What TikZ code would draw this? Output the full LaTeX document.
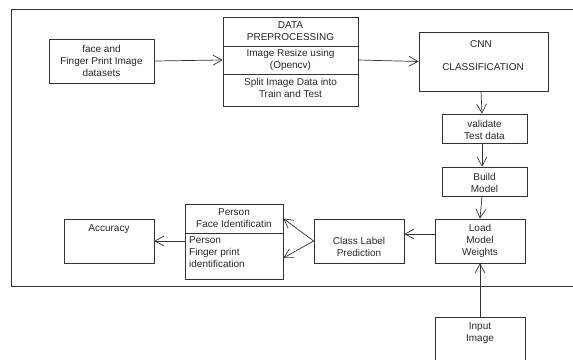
\documentclass[tikz,border=0pt]{standalone}
\usepackage{fontspec}
\setmainfont{Liberation Sans}
\usetikzlibrary{arrows.meta}
\definecolor{ln}{HTML}{333333}
\tikzset{
  box/.style={draw=ln, line width=0.7pt, rectangle, inner sep=0pt},
  txt/.style={inner sep=0pt, align=center, font=\fontsize{10}{12}\selectfont, text=black!85},
  ltxt/.style={inner sep=0pt, align=left, font=\fontsize{10}{12}\selectfont, text=black!85},
  arr/.style={draw=ln, line width=0.7pt, -{Straight Barb[length=9pt,width=10pt]}},
}
\begin{document}
\begin{tikzpicture}[x=1pt,y=-1pt]
\useasboundingbox (0,0) rectangle (573,359);
% frame
\draw[draw=ln, line width=0.7pt] (590,9) -- (11,9) -- (11,286) -- (590,286);
% face box
\node[box, minimum width=105, minimum height=44] (face) at (101.5,61) {};
\node[txt] (facet) at (face.center) {face and\\Finger Print Image\\datasets};
% data preprocessing
\node[box, minimum width=135, minimum height=29] (dp1) at (290.5,31.5) {};
\node[box, minimum width=135, minimum height=28] (dp2) at (290.5,60) {};
\node[box, minimum width=135, minimum height=32] (dp3) at (290.5,90) {};
\node[txt] (dp1t) at (dp1.center) {DATA\\PREPROCESSING};
\node[txt] (dp2t) at ([yshift=0.5]dp2.center) {Image Resize using\\(Opencv)};
\node[txt] (dp3t) at ([yshift=2]dp3.center) {Split Image Data into\\Train and Test};
% CNN
\node[box, minimum width=129, minimum height=59] (cnn) at (483.5,61.5) {};
\node[txt] (cnnt1) at (481,44) {CNN};
\node[txt] (cnnt2) at (483,67) {CLASSIFICATION};
% validate
\node[box, minimum width=85, minimum height=29] (val) at (484.5,128.5) {};
\node[txt] (valt) at ([yshift=-1.5]val.center) {validate\\Test data};
% build
\node[box, minimum width=85, minimum height=29] (bld) at (484.5,181.5) {};
\node[txt] (bldt) at ([yshift=-1]bld.center) {Build\\Model};
% load
\node[box, minimum width=90, minimum height=44] (load) at (480,241) {};
\node[txt] (loadt) at (load.center) {Load\\Model\\Weights};
% input
\node[box, minimum width=90, minimum height=50] (inp) at (480,342) {};
\node[txt] (inpt) at (480,333) {Input\\Image};
% class label
\node[box, minimum width=90, minimum height=44] (cls) at (359,241) {};
\node[txt] (clst) at ([yshift=-6]cls.center) {Class Label\\Prediction};
% person
\node[box, minimum width=98, minimum height=29] (per1) at (234,218.5) {};
\node[box, minimum width=98, minimum height=46] (per2) at (234,256) {};
\node[txt] (per1t) at ([yshift=0.5]per1.center) {Person\\Face Identificatin};
\node[ltxt, anchor=north west] (per2t) at (189,236) {Person\\Finger print\\identification};
% accuracy
\node[box, minimum width=90, minimum height=44] (acc) at (109,241) {};
\node[txt] (acct) at (109,229.5) {Accuracy};
% connectors
\draw[arr] (face.east) -- (dp2.west);
\draw[arr] (dp2.east) -- (cnn.west);
\draw[arr] ([xshift=-2.5]cnn.south) -- ([xshift=-2.5]val.north);
\draw[arr] ([xshift=-2.5]val.south) -- ([xshift=-2.5]bld.north);
\draw[arr] ([xshift=-2.5]bld.south) -- (load.north);
\draw[arr] (inp.north) -- (load.south);
\draw[arr] ([yshift=7]load.west) -- ([yshift=7]cls.east);
\draw[arr] (cls.west) -- (per1.east);
\draw[arr] (cls.west) -- ([yshift=-2]per2.east);
\draw[arr] (acc.east -| per2.west) -- (acc.east);
\end{tikzpicture}
\end{document}
